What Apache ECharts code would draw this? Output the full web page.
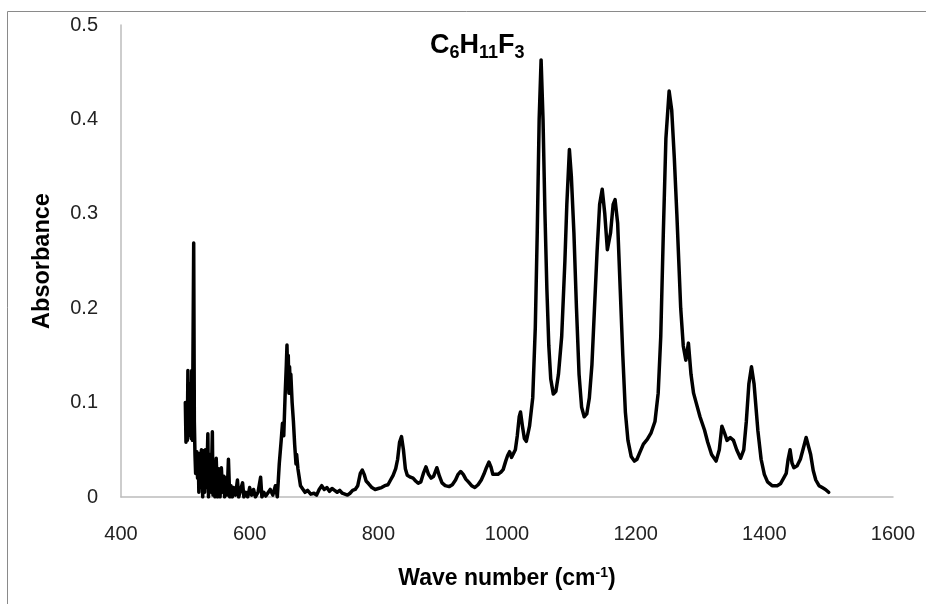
<!DOCTYPE html>
<html>
<head>
<meta charset="utf-8">
<title>C6H11F3 IR absorbance spectrum</title>
<script src="https://cdn.jsdelivr.net/npm/echarts@6/dist/echarts.min.js"></script>
<style>
  html, body { margin: 0; padding: 0; background: #fff; }
  #chart { width: 926px; height: 604px; }
</style>
</head>
<body>
<div id="chart"></div>
<script>
// Wavenumber (cm^-1) of each sample
const wavenumbers = [
  500, 501, 502, 503, 504, 505, 506, 507, 508, 509, 510, 511, 513, 514, 515, 516, 518, 519, 520, 521,
  522, 524, 525, 527, 528, 530, 531, 533, 535, 536, 538, 540, 542, 543, 545, 546, 548, 550, 552, 554,
  556, 558, 560, 561, 563, 565, 567, 569, 571, 573, 575, 578, 581, 583, 586, 589, 591, 594, 597, 600,
  603, 606, 609, 613, 617, 619, 622, 625, 628, 632, 636, 640, 643, 646, 649, 651, 653, 655, 657, 658,
  659, 660, 661, 662, 663, 664, 666, 668, 670, 672, 673, 675, 677, 679, 682, 686, 690, 695, 700, 704,
  708, 712, 716, 720, 724, 728, 732, 736, 740, 744, 748, 752, 756, 760, 764, 768, 772, 775, 778, 781,
  785, 790, 795, 800, 805, 810, 815, 819, 823, 827, 830, 833, 836, 839, 842, 845, 850, 854, 858, 862,
  866, 870, 874, 878, 882, 886, 891, 895, 899, 904, 910, 915, 920, 924, 928, 932, 936, 940, 945, 950,
  955, 960, 964, 968, 972, 975, 978, 981, 986, 990, 994, 998, 1001, 1004, 1007, 1010, 1013, 1016, 1019, 1021,
  1024, 1027, 1030, 1035, 1040, 1044, 1047, 1050, 1053, 1056, 1059, 1062, 1065, 1068, 1072, 1076, 1080, 1085, 1090, 1093,
  1097, 1100, 1104, 1108, 1112, 1116, 1120, 1124, 1128, 1132, 1136, 1140, 1144, 1148, 1152, 1156, 1158, 1161, 1165, 1168,
  1172, 1176, 1180, 1184, 1188, 1193, 1198, 1202, 1207, 1212, 1218, 1224, 1230, 1235, 1239, 1243, 1247, 1252, 1256, 1260,
  1264, 1267, 1270, 1274, 1278, 1282, 1286, 1290, 1294, 1300, 1307, 1312, 1318, 1325, 1330, 1334, 1338, 1342, 1347, 1352,
  1357, 1363, 1368, 1372, 1376, 1380, 1384, 1390, 1395, 1400, 1405, 1412, 1420, 1425, 1430, 1434, 1437, 1440, 1443, 1446,
  1451, 1456, 1460, 1465, 1468, 1472, 1476, 1480, 1485, 1490, 1495, 1500
];

// Measured absorbance at each wavenumber
const absorbance = [
  0.100, 0.058, 0.095, 0.060, 0.134, 0.070, 0.120, 0.065, 0.100, 0.062, 0.134, 0.060, 0.269, 0.080, 0.045, 0.025, 0.048, 0.020, 0.045, 0.005,
  0.046, 0.010, 0.050, 0.000, 0.049, 0.005, 0.050, 0.010, 0.067, 0.000, 0.045, 0.005, 0.069, 0.002, 0.035, 0.000, 0.041, 0.000, 0.030, 0.000,
  0.031, 0.005, 0.022, 0.000, 0.020, 0.002, 0.040, 0.000, 0.012, 0.000, 0.010, 0.002, 0.018, 0.000, 0.008, 0.015, 0.000, 0.005, 0.000, 0.010,
  0.002, 0.008, 0.000, 0.005, 0.021, 0.000, 0.005, 0.001, 0.003, 0.008, 0.002, 0.012, 0.000, 0.035, 0.060, 0.078, 0.065, 0.106, 0.140, 0.161,
  0.130, 0.150, 0.110, 0.138, 0.120, 0.130, 0.100, 0.080, 0.055, 0.035, 0.045, 0.030, 0.032, 0.012, 0.010, 0.005, 0.007, 0.003, 0.004, 0.002,
  0.008, 0.012, 0.008, 0.010, 0.006, 0.009, 0.007, 0.005, 0.007, 0.004, 0.003, 0.002, 0.004, 0.007, 0.008, 0.012, 0.025, 0.0286, 0.024, 0.017,
  0.014, 0.010, 0.008, 0.009, 0.010, 0.012, 0.013, 0.018, 0.023, 0.030, 0.040, 0.058, 0.064, 0.050, 0.030, 0.023, 0.021, 0.020, 0.017, 0.0145,
  0.016, 0.025, 0.032, 0.024, 0.020, 0.022, 0.031, 0.022, 0.015, 0.012, 0.011, 0.013, 0.018, 0.024, 0.027, 0.024, 0.019, 0.016, 0.012, 0.010,
  0.013, 0.018, 0.024, 0.031, 0.037, 0.032, 0.024, 0.022, 0.024, 0.026, 0.029, 0.038, 0.044, 0.048, 0.042, 0.040, 0.050, 0.065, 0.085, 0.090,
  0.075, 0.062, 0.059, 0.075, 0.105, 0.180, 0.280, 0.400, 0.463, 0.400, 0.300, 0.220, 0.160, 0.125, 0.109, 0.112, 0.130, 0.170, 0.250, 0.310,
  0.368, 0.340, 0.280, 0.200, 0.130, 0.095, 0.085, 0.088, 0.105, 0.140, 0.200, 0.260, 0.310, 0.326, 0.300, 0.262, 0.260, 0.280, 0.310, 0.315,
  0.290, 0.220, 0.150, 0.090, 0.060, 0.043, 0.038, 0.040, 0.048, 0.056, 0.061, 0.068, 0.080, 0.110, 0.170, 0.280, 0.380, 0.430, 0.410, 0.360,
  0.300, 0.250, 0.200, 0.160, 0.145, 0.163, 0.130, 0.110, 0.100, 0.085, 0.071, 0.058, 0.045, 0.038, 0.050, 0.075, 0.068, 0.060, 0.063, 0.060,
  0.050, 0.041, 0.050, 0.080, 0.120, 0.138, 0.120, 0.070, 0.040, 0.024, 0.016, 0.012, 0.012, 0.014, 0.020, 0.025, 0.040, 0.050, 0.036, 0.031,
  0.033, 0.040, 0.050, 0.063, 0.062, 0.045, 0.028, 0.018, 0.012, 0.010, 0.008, 0.005
];

// Axis ranges and tick spacing
const xRange = [400, 1600];
const xStep = 200;
const yRange = [0, 0.5];
const yStep = 0.1;

const spectrum = wavenumbers.map((w, i) => [w, absorbance[i]]);

const labelFont = '"Liberation Sans", Arial, sans-serif';
const chart = echarts.init(document.getElementById('chart'), null, { renderer: 'canvas' });

chart.setOption({
  backgroundColor: '#ffffff',
  animation: false,
  title: {
    text: '{b|C}{s|6}{b|H}{s|11}{b|F}{s|3}',
    left: 425,
    top: 26,
    textStyle: {
      rich: {
        b: { fontFamily: labelFont, fontWeight: 'bold', fontSize: 27, color: '#000', lineHeight: 30, verticalAlign: 'middle' },
        s: { fontFamily: labelFont, fontWeight: 'bold', fontSize: 18, color: '#000', lineHeight: 18, padding: [14, 0, 0, 0], verticalAlign: 'middle' }
      }
    }
  },
  graphic: [
    { type: 'line', shape: { x1: 7.5, y1: 11.5, x2: 926, y2: 11.5 }, style: { stroke: '#8a8a8a', lineWidth: 1 } },
    { type: 'line', shape: { x1: 7.5, y1: 11.5, x2: 7.5, y2: 604 }, style: { stroke: '#8a8a8a', lineWidth: 1 } }
  ],
  grid: { left: 121, right: 33, top: 25, bottom: 107, containLabel: false },
  xAxis: {
    type: 'value',
    min: xRange[0],
    max: xRange[1],
    interval: xStep,
    name: 'Wave number (cm{sup|-1})',
    nameLocation: 'middle',
    nameGap: 69,
    nameTextStyle: {
      fontFamily: labelFont, fontWeight: 'bold', fontSize: 23, color: '#000',
      rich: {
        sup: { fontFamily: labelFont, fontWeight: 'bold', fontSize: 14, color: '#000', padding: [0, 0, 11, 0] }
      }
    },
    axisLine: { show: true, lineStyle: { color: '#bcbcbc', width: 1.5 } },
    axisTick: { show: false },
    splitLine: { show: false },
    axisLabel: {
      fontFamily: labelFont, fontSize: 20, color: '#222', margin: 27,
      formatter: (v) => String(v)
    }
  },
  yAxis: {
    type: 'value',
    min: yRange[0],
    max: yRange[1],
    interval: yStep,
    name: 'Absorbance',
    nameLocation: 'middle',
    nameGap: 66,
    nameTextStyle: { fontFamily: labelFont, fontWeight: 'bold', fontSize: 23.5, color: '#000' },
    axisLine: { show: true, lineStyle: { color: '#bcbcbc', width: 1.5 } },
    axisTick: { show: false },
    splitLine: { show: false },
    axisLabel: {
      fontFamily: labelFont, fontSize: 20, color: '#222', margin: 23,
      formatter: (v) => String(Math.round(v * 10) / 10)
    }
  },
  series: [{
    type: 'line',
    data: spectrum,
    showSymbol: false,
    smooth: false,
    lineStyle: { color: '#000', width: 3.5, join: 'round', cap: 'round' }
  }]
});
</script>
</body>
</html>
